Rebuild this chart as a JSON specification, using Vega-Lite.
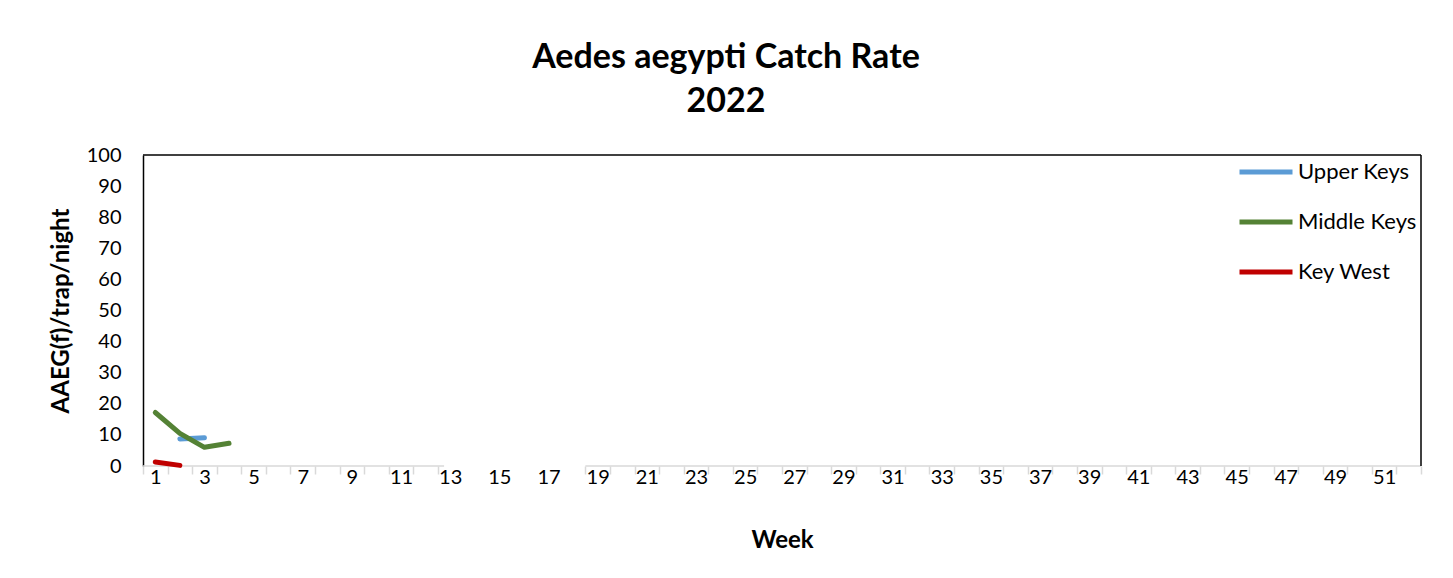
{
  "$schema": "https://vega.github.io/schema/vega-lite/v6.json",
  "width": 1278,
  "height": 311,
  "autosize": {"type": "none"},
  "padding": {"left": 143, "top": 155, "right": 32, "bottom": 112},
  "background": "white",
  "config": {"font": "Lato", "view": {"stroke": null}},
  "title": {
    "text": ["Aedes aegypti Catch Rate", "2022"],
    "fontSize": 34,
    "fontWeight": "bold",
    "color": "black",
    "anchor": "middle",
    "dx": -56,
    "offset": 24,
    "lineHeight": 44
  },
  "resolve": {"axis": {"x": "independent", "y": "independent"}},
  "layer": [
    {
      "data": {"values": [{}]},
      "mark": {"type": "rule", "color": "#d9d9d9", "strokeWidth": 1.5},
      "encoding": {
        "x": {
          "datum": 0.5,
          "type": "quantitative",
          "axis": {
            "orient": "bottom",
            "values": [0.5, 1.5, 2.5, 3.5, 4.5, 5.5, 6.5, 7.5, 8.5, 9.5, 10.5, 11.5, 12.5, 18.5, 19.5, 20.5, 21.5, 22.5, 23.5, 24.5, 25.5, 26.5, 27.5, 28.5, 29.5, 30.5, 31.5, 32.5, 33.5, 34.5, 35.5, 36.5, 37.5, 38.5, 39.5, 40.5, 41.5, 42.5, 43.5, 44.5, 45.5, 46.5, 47.5, 48.5, 49.5, 50.5, 51.5, 52.5],
            "labels": false,
            "domain": false,
            "grid": false,
            "ticks": true,
            "tickColor": "#d9d9d9",
            "tickSize": 8,
            "tickWidth": 1.5,
            "title": null
          }
        },
        "x2": {"datum": 12.75},
        "y": {"datum": 0, "type": "quantitative", "axis": null}
      }
    },
    {
      "data": {"values": [{}]},
      "mark": {"type": "rule", "color": "#d9d9d9", "strokeWidth": 1.5},
      "encoding": {
        "x": {"datum": 18.5, "type": "quantitative", "axis": null},
        "x2": {"datum": 52.5},
        "y": {"datum": 0, "type": "quantitative", "axis": null}
      }
    },
    {
      "data": {"values": [{}]},
      "mark": {"type": "rule", "color": "black", "strokeWidth": 1.5},
      "encoding": {
        "x": {"datum": 0.5, "type": "quantitative", "axis": null},
        "x2": {"datum": 52.5},
        "y": {"datum": 100, "type": "quantitative", "axis": null}
      }
    },
    {
      "data": {"values": [{}]},
      "mark": {"type": "rule", "color": "black", "strokeWidth": 1.5},
      "encoding": {
        "x": {"datum": 52.5, "type": "quantitative", "axis": null},
        "y": {"datum": 0, "type": "quantitative", "axis": null},
        "y2": {"datum": 100}
      }
    },
    {
      "data": {
        "values": [
          {"Region": "Upper Keys", "Week": 2, "Rate": 8.7},
          {"Region": "Upper Keys", "Week": 3, "Rate": 9.1},
          {"Region": "Middle Keys", "Week": 1, "Rate": 17.2},
          {"Region": "Middle Keys", "Week": 2, "Rate": 10.5},
          {"Region": "Middle Keys", "Week": 3, "Rate": 6.0},
          {"Region": "Middle Keys", "Week": 4, "Rate": 7.3},
          {"Region": "Key West", "Week": 1, "Rate": 1.3},
          {"Region": "Key West", "Week": 2, "Rate": 0.2}
        ]
      },
      "mark": {"type": "line", "strokeWidth": 5, "strokeCap": "round", "strokeJoin": "round"},
      "encoding": {
        "x": {
          "field": "Week",
          "type": "quantitative",
          "scale": {"domain": [0.5, 52.5], "nice": false, "zero": false},
          "axis": {
            "orient": "bottom",
            "values": [1, 3, 5, 7, 9, 11, 13, 15, 17, 19, 21, 23, 25, 27, 29, 31, 33, 35, 37, 39, 41, 43, 45, 47, 49, 51],
            "format": "d",
            "ticks": false,
            "domain": false,
            "grid": false,
            "labelFontSize": 20,
            "labelColor": "black",
            "labelPadding": 1,
            "labelOverlap": false,
            "title": "Week",
            "titleFontSize": 24,
            "titleFontWeight": "bold",
            "titleColor": "black",
            "titlePadding": 41
          }
        },
        "y": {
          "field": "Rate",
          "type": "quantitative",
          "scale": {"domain": [0, 100], "nice": false},
          "axis": {
            "values": [0, 10, 20, 30, 40, 50, 60, 70, 80, 90, 100],
            "ticks": false,
            "grid": false,
            "domainColor": "black",
            "domainWidth": 1.5,
            "labelFontSize": 20,
            "labelColor": "black",
            "labelPadding": 22,
            "title": "AAEG(f)/trap/night",
            "titleFontSize": 24,
            "titleFontWeight": "bold",
            "titleColor": "black",
            "titlePadding": 13
          }
        },
        "color": {
          "field": "Region",
          "type": "nominal",
          "scale": {
            "domain": ["Upper Keys", "Middle Keys", "Key West"],
            "range": ["#5B9BD5", "#548235", "#C00000"]
          },
          "legend": {
            "orient": "none",
            "legendX": 1094,
            "legendY": -12,
            "title": null,
            "symbolType": "stroke",
            "symbolSize": 2809,
            "symbolStrokeWidth": 5,
            "labelFontSize": 22,
            "labelColor": "black",
            "labelOffset": 3,
            "rowPadding": 10
          }
        }
      }
    }
  ]
}
